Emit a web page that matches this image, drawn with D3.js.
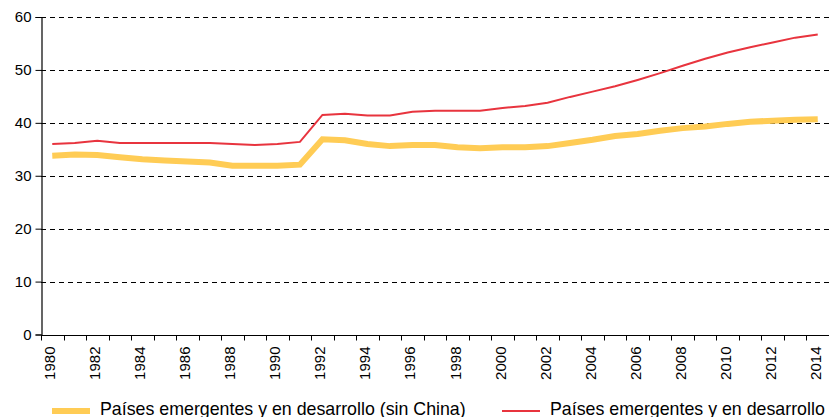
<!DOCTYPE html>
<html>
<head>
<meta charset="utf-8">
<script src="https://cdn.jsdelivr.net/npm/d3@7"></script>
<style>
  html, body { margin: 0; padding: 0; background: #fff; }
  svg text { font-family: "Liberation Sans", Arial, sans-serif; fill: #000; }
</style>
</head>
<body>
<div id="chart"></div>
<script>
// years 1980-2014
const years = d3.range(1980, 2015);

// Países emergentes y en desarrollo (sin China)
const sinChina = [
  33.8, 34.0, 33.9, 33.5, 33.1, 32.9, 32.7, 32.5, 31.9, 31.9,
  31.9, 32.1, 36.9, 36.7, 36.0, 35.6, 35.8, 35.8, 35.4, 35.2,
  35.4, 35.4, 35.6, 36.2, 36.8, 37.5, 37.9, 38.5, 39.0, 39.3,
  39.8, 40.2, 40.4, 40.6, 40.7
];

// Países emergentes y en desarrollo
const total = [
  36.0, 36.2, 36.6, 36.2, 36.2, 36.2, 36.2, 36.2, 36.0, 35.8,
  36.0, 36.4, 41.5, 41.7, 41.4, 41.4, 42.1, 42.3, 42.3, 42.3,
  42.8, 43.2, 43.8, 44.9, 45.9, 46.9, 48.1, 49.4, 50.8, 52.1,
  53.3, 54.3, 55.2, 56.1, 56.7
];

const yTicks = [0, 10, 20, 30, 40, 50, 60];

const seriesNames = [
  "Países emergentes y en desarrollo (sin China)",
  "Países emergentes y en desarrollo"
];

const width = 829, height = 417;
const margin = {left: 41, right: 0, top: 17, bottom: 82};

const svg = d3.select("#chart").append("svg")
  .attr("width", width)
  .attr("height", height);

const x = d3.scaleBand()
  .domain(years)
  .range([margin.left, width - margin.right]);

const y = d3.scaleLinear()
  .domain([0, 60])
  .range([height - margin.bottom - 0.5, margin.top]);

// gridlines
svg.append("g")
  .selectAll("line")
  .data(yTicks.filter(d => d > 0))
  .enter().append("line")
  .attr("x1", margin.left)
  .attr("x2", width)
  .attr("y1", d => Math.round(y(d)) + 0.5)
  .attr("y2", d => Math.round(y(d)) + 0.5)
  .attr("stroke", "#000")
  .attr("stroke-width", 1)
  .attr("stroke-dasharray", "5,4");

// y axis
const yAxis = svg.append("g")
  .attr("transform", `translate(${margin.left + 0.5},0)`)
  .call(d3.axisLeft(y).tickValues(yTicks).tickSize(6).tickPadding(4));
yAxis.selectAll("text").style("font-size", "15px");
yAxis.select(".domain").attr("stroke", "#000").attr("stroke-width", 1.2);

// x axis: ticks at band edges, labels every 2 years at band centers
const xBase = Math.round(y(0)) + 0.5;
const xg = svg.append("g");
xg.append("line")
  .attr("x1", margin.left).attr("x2", width)
  .attr("y1", xBase).attr("y2", xBase)
  .attr("stroke", "#000").attr("stroke-width", 1.2);
xg.selectAll("line.tick")
  .data(years)
  .enter().append("line")
  .attr("class", "tick")
  .attr("x1", d => Math.round(x(d)) + 0.5)
  .attr("x2", d => Math.round(x(d)) + 0.5)
  .attr("y1", xBase).attr("y2", xBase + 5)
  .attr("stroke", "#000");
xg.selectAll("text")
  .data(years.filter(d => d % 2 === 0))
  .enter().append("text")
  .attr("transform", d => `translate(${x(d) + x.bandwidth() / 2 + 3},${xBase + 11}) rotate(-90)`)
  .attr("text-anchor", "end")
  .style("font-size", "15px")
  .text(d => d);

const line = d3.line()
  .x((d, i) => x(years[i]) + x.bandwidth() / 2)
  .y(d => y(d));

svg.append("path")
  .datum(sinChina)
  .attr("fill", "none")
  .attr("stroke", "#ffcc55")
  .attr("stroke-width", 6)
  .attr("d", line);

svg.append("path")
  .datum(total)
  .attr("fill", "none")
  .attr("stroke", "#e8343e")
  .attr("stroke-width", 2)
  .attr("d", line);

// legend
const legend = [
  {name: seriesNames[0], color: "#ffcc55", w: 6, x: 52},
  {name: seriesNames[1], color: "#e8343e", w: 2, x: 502}
];
const lg = svg.append("g");
lg.selectAll("line")
  .data(legend)
  .enter().append("line")
  .attr("x1", d => d.x).attr("x2", d => d.x + 38)
  .attr("y1", 411).attr("y2", 411)
  .attr("stroke", d => d.color)
  .attr("stroke-width", d => d.w);
lg.selectAll("text")
  .data(legend)
  .enter().append("text")
  .attr("x", d => d.x + 48)
  .attr("y", 415)
  .style("font-size", "17.8px")
  .text(d => d.name);
</script>
</body>
</html>
